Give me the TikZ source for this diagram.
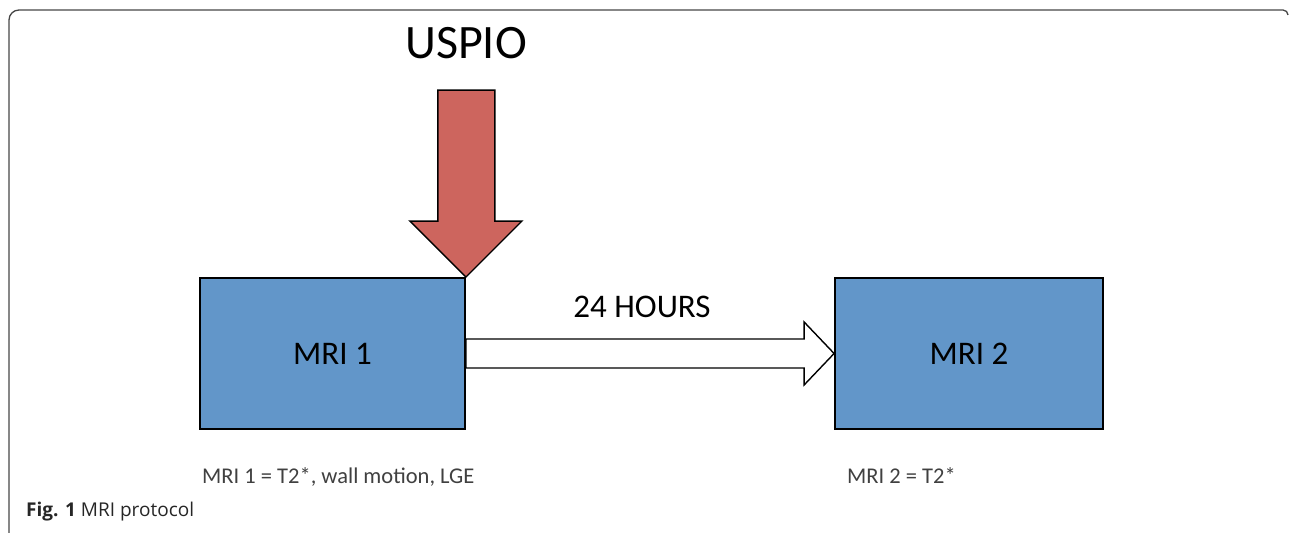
\documentclass[tikz,border=0pt]{standalone}
\usepackage{fontspec}
\setmainfont{Carlito}
\newfontfamily\capfont{Open Sans}
\usetikzlibrary{calc}
\definecolor{mriblue}{RGB}{98,150,201}
\definecolor{uspiored}{RGB}{205,101,94}
\definecolor{framegray}{RGB}{70,70,70}
\begin{document}
\begin{tikzpicture}[x=1pt,y=1pt,line join=miter,
	mribox/.style={draw=black,line width=1.8pt,fill=mriblue,minimum width=265pt,minimum height=151pt,inner sep=0pt,font=\fontsize{33}{36}\selectfont},
	uspioarrow/.style={draw=black,line width=1.4pt,fill=uspiored},
	timearrow/.style={draw=black,line width=1.4pt,fill=white},
	notetext/.style={anchor=base west,text=black!75,font=\fontsize{22.5}{25}\selectfont,inner sep=0pt}]
	\useasboundingbox (0,0) rectangle (1290,534);
	% frame
	\draw[framegray,line width=1.3pt] (9,1) -- (9,514) arc[start angle=180,end angle=90,radius=10] -- (1283,524) arc[start angle=90,end angle=0,radius=5];
	\node[mribox] (mri1) at (332.5,180.5) {MRI 1};
	\node[mribox,minimum width=268pt] (mri2) at (969,180.5) {MRI 2};
	% USPIO injection
	\draw[uspioarrow] (mri1.north east) -- ++(-56,56) -- ++(28,0) -- ++(0,131) -- ++(57,0) -- ++(0,-131) -- ++(27,0) -- cycle;
	\node[anchor=base,font=\fontsize{48}{52}\selectfont,inner sep=0pt] (uspio) at (466,475) {USPIO};
	% 24 h between scans
	\draw[timearrow] ($(mri1.east)+(0,14.5)$) -- ($(mri2.west)+(-30,14.5)$) -- ++(0,17) -- (mri2.west) -- ++(-30,-31.5) -- ++(0,17) -- ($(mri1.east)+(0,-14.5)$) -- cycle;
	\node[anchor=base,font=\fontsize{33}{36}\selectfont,inner sep=0pt] (hours) at (642,216) {24 HOURS};
	\node[notetext] (note1) at (202,50) {MRI 1 = T2*, wall motion, LGE};
	\node[notetext] (note2) at (847,50) {MRI 2 = T2*};
	\node[anchor=base west,inner sep=0pt,font=\capfont\fontsize{19}{22}\selectfont,text=black!85] (caption) at (26,17) {{\bfseries Fig. 1} MRI protocol};
\end{tikzpicture}
\end{document}
